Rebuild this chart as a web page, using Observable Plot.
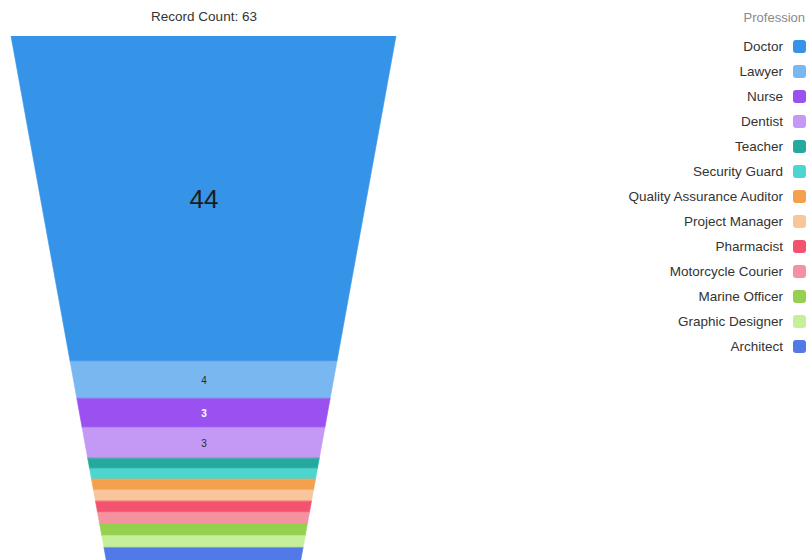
<!DOCTYPE html>
<html>
<head>
<meta charset="utf-8">
<script src="https://cdn.jsdelivr.net/npm/d3@7"></script>
<script src="https://cdn.jsdelivr.net/npm/@observablehq/plot@0.6"></script>
<style>
  body { margin: 0; background: #fff; }
  #wrap { position: relative; width: 808px; height: 560px; overflow: hidden; font-family: "Liberation Sans", Arial, sans-serif; }
  #title { position: absolute; left: 0; top: 8px; width: 408px; text-align: center; font-size: 13.5px; color: #333; line-height: 18px; }
  #chart { position: absolute; left: 0; top: 36px; }
  #legend { position: absolute; right: 2px; top: 9px; text-align: right; }
  #legend .ltitle { font-size: 13px; color: #8a8a8a; line-height: 18px; height: 25px; padding-right: 1px; }
  #legend .row { display: flex; justify-content: flex-end; align-items: center; height: 25px; font-size: 13.5px; color: #333; }
  #legend .sw { width: 13px; height: 13px; border-radius: 3px; margin-left: 10px; }
</style>
</head>
<body>
<div id="wrap">
  <div id="title"></div>
  <div id="chart"></div>
  <div id="legend"></div>
</div>
<script>
const legendTitle = "Profession";
const professions = ["Doctor", "Lawyer", "Nurse", "Dentist", "Teacher", "Security Guard",
  "Quality Assurance Auditor", "Project Manager", "Pharmacist", "Motorcycle Courier",
  "Marine Officer", "Graphic Designer", "Architect"];
const counts = [44, 4, 3, 3, 1, 1, 1, 1, 1, 1, 1, 1, 1];
const colors = ["#3593e8", "#79b7f1", "#9b51f0", "#c399f5", "#25a99e", "#4fd5cf",
  "#f5a04c", "#f8c69a", "#f3536e", "#f4939f", "#95d04f", "#c6ef9a", "#5179e8"];

const total = d3.sum(counts);
document.getElementById("title").textContent = "Record Count: " + total;

// funnel geometry: half-width shrinks linearly with depth; segment area proportional to count
const taper = 0.4945;
const fullArea = 1 - taper / 2;
const depthAt = frac => (1 - Math.sqrt(Math.max(0, 1 - 2 * taper * frac * fullArea))) / taper;
const halfWidth = u => 1 - taper * u;

let cum = 0;
const segs = professions.map((p, i) => {
  const u0 = depthAt(cum / total);
  cum += counts[i];
  const u1 = depthAt(cum / total);
  return { profession: p, count: counts[i], color: colors[i], u0, u1, mid: (u0 + u1) / 2 };
});
const pts = segs.flatMap(s => [
  { profession: s.profession, u: s.u0, xl: -halfWidth(s.u0), xr: halfWidth(s.u0) },
  { profession: s.profession, u: s.u1, xl: -halfWidth(s.u1), xr: halfWidth(s.u1) }
]);
const isDark = c => d3.lab(c).l < 55;

const chart = Plot.plot({
  width: 408,
  height: 524,
  marginLeft: 11,
  marginRight: 12,
  marginTop: 0,
  marginBottom: 0,
  x: { domain: [-1, 1], axis: null },
  y: { domain: [0, 1], reverse: true, axis: null },
  color: { domain: professions, range: colors },
  style: { fontFamily: "'Liberation Sans', Arial, sans-serif", background: "transparent" },
  marks: [
    Plot.areaX(pts, { y: "u", x1: "xl", x2: "xr", z: "profession", fill: "profession",
      stroke: "profession", strokeWidth: 0.6, curve: "linear" }),
    Plot.text(segs.filter(d => d.count >= 10), { x: 0, y: "mid", text: d => String(d.count),
      fontSize: 26, fill: "#1c1c1c" }),
    Plot.text(segs.filter(d => d.count >= 3 && d.count < 10 && !isDark(d.color)), { x: 0, y: "mid",
      text: d => String(d.count), fontSize: 10, fill: "#2a2a2a" }),
    Plot.text(segs.filter(d => d.count >= 3 && d.count < 10 && isDark(d.color)), { x: 0, y: "mid",
      text: d => String(d.count), fontSize: 10, fontWeight: "bold", fill: "#ffffff" })
  ]
});
document.getElementById("chart").appendChild(chart);

const legend = document.getElementById("legend");
const lt = document.createElement("div");
lt.className = "ltitle";
lt.textContent = legendTitle;
legend.appendChild(lt);
professions.forEach((p, i) => {
  const row = document.createElement("div");
  row.className = "row";
  const t = document.createElement("span");
  t.textContent = p;
  const sw = document.createElement("span");
  sw.className = "sw";
  sw.style.background = colors[i];
  row.appendChild(t);
  row.appendChild(sw);
  legend.appendChild(row);
});
</script>
</body>
</html>
